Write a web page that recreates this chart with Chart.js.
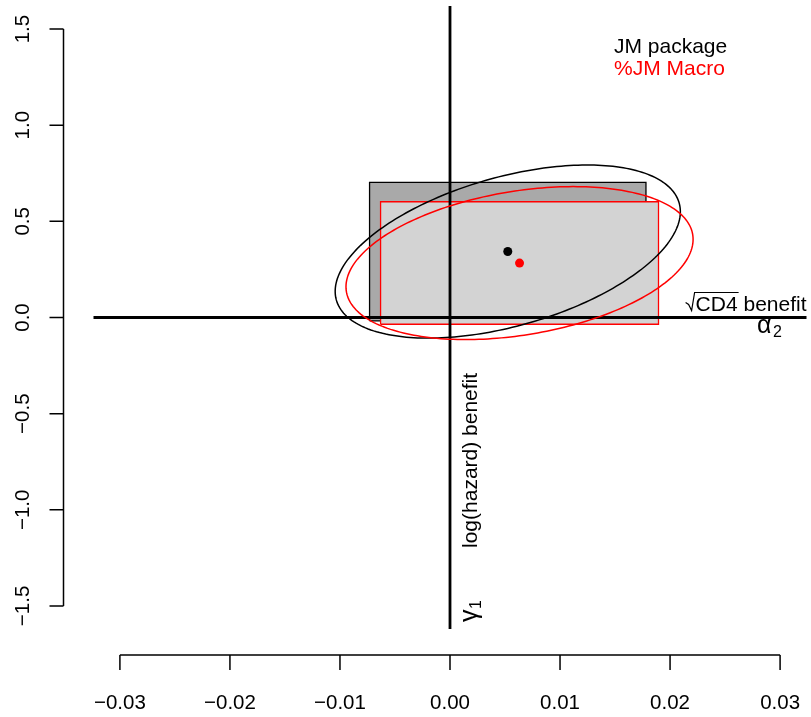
<!DOCTYPE html>
<html>
<head>
<meta charset="utf-8">
<script src="https://cdn.jsdelivr.net/npm/chart.js@4.4.1/dist/chart.umd.min.js"></script>
<style>
  body { margin: 0; background: #fff; }
  canvas { display: block; }
</style>
</head>
<body>
<canvas id="chart" width="811" height="717"></canvas>
<script>
// two fits of the same joint model
const seriesNames = ["JM package", "%JM Macro"];
const seriesColors = ["#000000", "#ff0000"];
const rectFills = ["#a9a9a9", "#d3d3d3"];

// alpha2 (sqrt CD4 benefit) estimate and 95% CI
const alpha2Est = [0.00525, 0.00632];
const alpha2Lower = [-0.00731, -0.00631];
const alpha2Upper = [0.01781, 0.01895];

// gamma1 (log hazard benefit) estimate and 95% CI
const gamma1Est = [0.343, 0.283];
const gamma1Lower = [-0.018, -0.035];
const gamma1Upper = [0.703, 0.602];

// correlation between the two estimates (for the confidence ellipse)
const estCorr = [0.46, 0.31];

const xTicks = [-0.03, -0.02, -0.01, 0.00, 0.01, 0.02, 0.03];
const xTickLabels = ["\u22120.03", "\u22120.02", "\u22120.01", "0.00", "0.01", "0.02", "0.03"];
const yTicks = [-1.5, -1.0, -0.5, 0.0, 0.5, 1.0, 1.5];
const yTickLabels = ["\u22121.5", "\u22121.0", "\u22120.5", "0.0", "0.5", "1.0", "1.5"];

const FONT = '"Liberation Sans", Arial, sans-serif';

function rectPoints(i) {
    return [
        {x: alpha2Lower[i], y: gamma1Lower[i]},
        {x: alpha2Upper[i], y: gamma1Lower[i]},
        {x: alpha2Upper[i], y: gamma1Upper[i]},
        {x: alpha2Lower[i], y: gamma1Upper[i]},
        {x: alpha2Lower[i], y: gamma1Lower[i]}
    ];
}

// ratio sqrt(qchisq(.95,2)) / qnorm(.975)
const ELL_K = 2.4477 / 1.96;

const overlay = {
    id: "overlay",
    afterDatasetsDraw(chart) {
        const ctx = chart.ctx;
        const xs = chart.scales.x, ys = chart.scales.y;
        const area = chart.chartArea;
        ctx.save();

        // reference lines through zero
        ctx.strokeStyle = "#000";
        ctx.lineWidth = 2.8;
        ctx.beginPath();
        ctx.moveTo(area.left, ys.getPixelForValue(0));
        ctx.lineTo(area.right, ys.getPixelForValue(0));
        ctx.moveTo(xs.getPixelForValue(0), area.top);
        ctx.lineTo(xs.getPixelForValue(0), area.bottom);
        ctx.stroke();

        // confidence ellipses
        ctx.lineWidth = 1.5;
        for (let i = 0; i < seriesNames.length; i++) {
            const W = (alpha2Upper[i] - alpha2Lower[i]) / 2 * ELL_K;
            const H = (gamma1Upper[i] - gamma1Lower[i]) / 2 * ELL_K;
            const r = estCorr[i], s = Math.sqrt(1 - r * r);
            ctx.strokeStyle = seriesColors[i];
            ctx.beginPath();
            for (let k = 0; k <= 240; k++) {
                const t = k / 240 * 2 * Math.PI;
                const px = xs.getPixelForValue(alpha2Est[i] + W * Math.cos(t));
                const py = ys.getPixelForValue(gamma1Est[i] + H * (r * Math.cos(t) + s * Math.sin(t)));
                if (k === 0) ctx.moveTo(px, py); else ctx.lineTo(px, py);
            }
            ctx.closePath();
            ctx.stroke();
        }

        // R style axes
        ctx.strokeStyle = "#000";
        ctx.fillStyle = "#000";
        ctx.lineWidth = 1.5;
        ctx.font = "20.5px " + FONT;

        const axY = 655;
        ctx.beginPath();
        ctx.moveTo(xs.getPixelForValue(xTicks[0]), axY);
        ctx.lineTo(xs.getPixelForValue(xTicks[xTicks.length - 1]), axY);
        xTicks.forEach(v => {
            ctx.moveTo(xs.getPixelForValue(v), axY);
            ctx.lineTo(xs.getPixelForValue(v), axY + 15);
        });
        ctx.stroke();
        ctx.textAlign = "center";
        ctx.textBaseline = "alphabetic";
        xTicks.forEach((v, i) => ctx.fillText(xTickLabels[i], xs.getPixelForValue(v), 709));

        const axX = 63.5;
        ctx.beginPath();
        ctx.moveTo(axX, ys.getPixelForValue(yTicks[0]));
        ctx.lineTo(axX, ys.getPixelForValue(yTicks[yTicks.length - 1]));
        yTicks.forEach(v => {
            ctx.moveTo(axX, ys.getPixelForValue(v));
            ctx.lineTo(axX - 14, ys.getPixelForValue(v));
        });
        ctx.stroke();
        yTicks.forEach((v, i) => {
            ctx.save();
            ctx.translate(28.5, ys.getPixelForValue(v));
            ctx.rotate(-Math.PI / 2);
            ctx.fillText(yTickLabels[i], 0, 0);
            ctx.restore();
        });

        // legend text
        ctx.textAlign = "left";
        ctx.font = "21px " + FONT;
        seriesNames.forEach((n, i) => {
            ctx.fillStyle = seriesColors[i];
            ctx.fillText(n, 614, 53 + i * 22);
        });

        // sqrt(CD4) benefit label, alpha2
        ctx.fillStyle = "#000";
        const y0 = ys.getPixelForValue(0);
        const lab = "CD4 benefit";
        const wFull = ctx.measureText(lab).width;
        const wCD4 = ctx.measureText("CD4").width;
        const right = area.right;
        const sx = right - wFull;
        ctx.fillText(lab, sx, y0 - 7);
        ctx.lineWidth = 1.2;
        ctx.beginPath();
        ctx.moveTo(sx - 10, y0 - 15);
        ctx.lineTo(sx - 7, y0 - 13);
        ctx.lineTo(sx - 4, y0 - 7);
        ctx.lineTo(sx - 1, y0 - 25);
        ctx.lineTo(sx + wCD4 + 1, y0 - 25);
        ctx.stroke();

        ctx.font = "25px " + FONT;
        ctx.fillText("\u03b1", 757, y0 + 15);
        ctx.font = "16px " + FONT;
        ctx.fillText("2", 773, y0 + 19);

        // log(hazard) benefit label, gamma1
        const x0 = xs.getPixelForValue(0);
        ctx.save();
        ctx.translate(x0 + 27, 548);
        ctx.rotate(-Math.PI / 2);
        ctx.font = "21px " + FONT;
        ctx.fillText("log(hazard) benefit", 0, 0);
        ctx.restore();

        ctx.save();
        ctx.translate(x0 + 27, 622);
        ctx.rotate(-Math.PI / 2);
        ctx.font = "25px " + FONT;
        ctx.fillText("\u03b3", 0, 0);
        ctx.font = "16px " + FONT;
        ctx.fillText("1", 13, 4);
        ctx.restore();

        ctx.restore();
    }
};

const datasets = [];
// points on top
seriesNames.forEach((n, i) => {
    datasets.push({
        label: n + " estimate",
        data: [{x: alpha2Est[i], y: gamma1Est[i]}],
        backgroundColor: seriesColors[i],
        borderWidth: 0,
        pointRadius: 4.5,
        order: 0
    });
});
// CI rectangles, second fit drawn over the first
seriesNames.forEach((n, i) => {
    datasets.push({
        label: n + " CI",
        data: rectPoints(i),
        showLine: true,
        fill: "shape",
        tension: 0,
        borderColor: seriesColors[i],
        backgroundColor: rectFills[i],
        borderWidth: 1.3,
        pointRadius: 0,
        order: 10 - i
    });
});

new Chart(document.getElementById("chart"), {
    type: "scatter",
    data: { datasets: datasets },
    options: {
        responsive: false,
        animation: false,
        devicePixelRatio: 1,
        layout: { padding: { left: 93.5, right: 3.5, top: 6, bottom: 88 } },
        scales: {
            x: { type: "linear", min: -0.0324, max: 0.0324, display: false },
            y: { type: "linear", min: -1.62, max: 1.62, display: false }
        },
        plugins: {
            legend: { display: false },
            tooltip: { enabled: false }
        }
    },
    plugins: [overlay]
});
</script>
</body>
</html>
